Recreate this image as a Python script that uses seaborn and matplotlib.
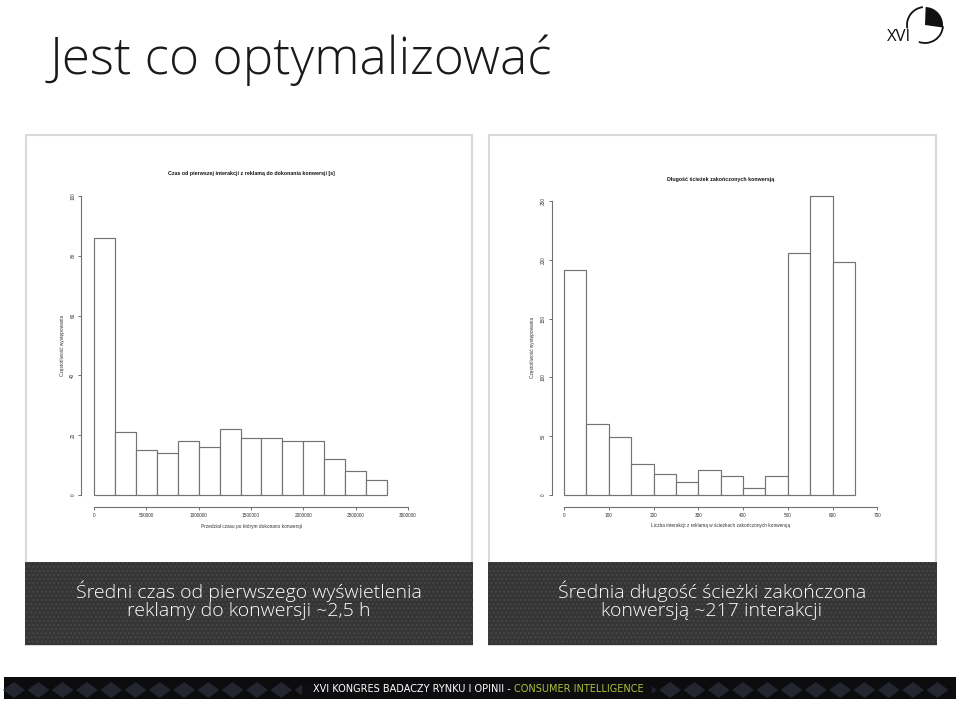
import matplotlib
matplotlib.use("Agg")
import math
import matplotlib.pyplot as plt
import seaborn as sns
from matplotlib.patches import Rectangle, Arc, Polygon

# ---------------- data ----------------
left_edges = [0, 200000, 400000, 600000, 800000, 1000000, 1200000, 1400000,
              1600000, 1800000, 2000000, 2200000, 2400000, 2600000, 2800000]
left_counts = [86, 21, 15, 14, 18, 16, 22, 19, 19, 18, 18, 12, 8, 5]
left_xticks = [0, 500000, 1000000, 1500000, 2000000, 2500000, 3000000]
left_yticks = [0, 20, 40, 60, 80, 100]

right_edges = [0, 50, 100, 150, 200, 250, 300, 350, 400, 450, 500, 550, 600, 650]
right_counts = [191, 60, 49, 26, 18, 11, 21, 16, 6, 16, 206, 254, 198]
right_xticks = [0, 100, 200, 300, 400, 500, 600, 700]
right_yticks = [0, 50, 100, 150, 200, 250]

slide_title = "Jest co optymalizować"
left_title = "Czas od pierwszej interakcji z reklamą do dokonania konwersji [s]"
left_xlabel = "Przedział czasu po którym dokonano konwersji"
right_title = "Długość ścieżek zakończonych konwersją"
right_xlabel = "Liczba interakcji z reklamą w ścieżkach zakończonych konwersją"
ylabel = "Częstotliwość występowania"
left_caption = "Średni czas od pierwszego wyświetlenia\nreklamy do konwersji ~2,5 h"
right_caption = "Średnia długość ścieżki zakończona\nkonwersją ~217 interakcji"
footer_white = "XVI KONGRES BADACZY RYNKU I OPINII - "
footer_green = "CONSUMER INTELLIGENCE"

# ---------------- figure ----------------
sns.set_theme(style="white")
plt.rcParams['font.family'] = ['Liberation Sans', 'DejaVu Sans']
plt.rcParams['hatch.linewidth'] = 1.0
W, H = 960, 702
fig = plt.figure(figsize=(W / 100, H / 100), dpi=100)
fig.patch.set_facecolor("white")
SLIDE_FONT = ["Open Sans", "DejaVu Sans"]


def fx(x):
    return x / W


def fy(y):
    return 1 - y / H


def rect(x0, y0, x1, y1, z=-5, **kw):
    r = Rectangle((fx(x0), fy(y1)), fx(x1) - fx(x0), fy(y0) - fy(y1),
                  transform=fig.transFigure, zorder=z, **kw)
    fig.patches.append(r)
    return r


# slide title
fig.text(fx(50), fy(74), slide_title, fontsize=37, color="#1a1a1a",
         family=SLIDE_FONT, fontweight="light", ha="left", va="baseline")

# logo
cx, cy, rr = 925, 25, 18
for t1_, t2_ in [(95, 195), (255, 355)]:
    fig.patches.append(Arc((fx(cx), fy(cy)), 2 * rr / W, 2 * rr / H, theta1=t1_, theta2=t2_,
                           transform=fig.transFigure, color="#111111", lw=1.3))
wedge_pts = [(fx(cx), fy(cy))]
for a in range(-8, 91, 4):
    wedge_pts.append((fx(cx + rr * math.cos(math.radians(a))),
                      fy(cy - rr * math.sin(math.radians(a)))))
fig.patches.append(Polygon(wedge_pts, closed=True, transform=fig.transFigure,
                           facecolor="#111111", edgecolor="none"))
fig.text(fx(899), fy(37), "XVI", fontsize=12, color="#111111", ha="center", va="center",
         family=SLIDE_FONT)

# panels
for (x0, x1) in [(26, 472), (489, 936)]:
    rect(x0, 135, x1, 645, facecolor="white", edgecolor="#dadada", lw=1.5)
    rect(x0 - 0.7, 562, x1 + 0.7, 645, facecolor="#353535", edgecolor="none")
    rect(x0 - 0.7, 562, x1 + 0.7, 645, facecolor="none", edgecolor="#474747",
         hatch="....", lw=0)

fig.text(fx(249), fy(600), left_caption, fontsize=14, color="white", ha="center",
         va="center", linespacing=1.0, family=SLIDE_FONT, fontweight="light", zorder=10)
fig.text(fx(712), fy(600), right_caption, fontsize=14, color="white", ha="center",
         va="center", linespacing=1.0, family=SLIDE_FONT, fontweight="light", zorder=10)

# footer band
rect(4, 677, 956, 699, facecolor="#0c0c0e", edgecolor="none")
xd = 14
while xd < 960:
    pts = [(fx(xd - 11), fy(690)), (fx(xd), fy(682)), (fx(xd + 11), fy(690)), (fx(xd), fy(698))]
    fig.patches.append(Polygon(pts, closed=True, transform=fig.transFigure,
                               facecolor="#23262e", edgecolor="none", zorder=-4))
    xd += 24.3
rect(302, 678, 652, 698, z=-3, facecolor="#0c0c0e", edgecolor="none", alpha=0.9)

t1 = fig.text(fx(313), fy(689), footer_white, fontsize=7.0, color="white", ha="left",
              va="center", family=["Liberation Sans Narrow", "DejaVu Sans"])
fig.canvas.draw()
bb = t1.get_window_extent(renderer=fig.canvas.get_renderer())
fig.text(bb.x1 / W, fy(689), footer_green, fontsize=7.0, color="#a9c23a", ha="left",
         va="center", family=["Liberation Sans Narrow", "DejaVu Sans"])


# ---------------- histograms ----------------
def hist_axes(px_left, px_right, px_top, px_bottom):
    ax = fig.add_axes([fx(px_left), fy(px_bottom), fx(px_right) - fx(px_left),
                       fy(px_top) - fy(px_bottom)])
    ax.set_zorder(5)
    return ax


def style(ax, edges, counts, xticks, yticks, title, xlabel, xpad, ypad):
    centers = [(a + b) / 2 for a, b in zip(edges[:-1], edges[1:])]
    sns.histplot(x=centers, weights=counts, bins=edges, ax=ax, color="white",
                 edgecolor="#737373", linewidth=0.85, alpha=1)
    ax.patch.set_alpha(0)
    xr = xticks[-1] - xticks[0]
    yr = yticks[-1] - yticks[0]
    ax.set_xlim(xticks[0] - 0.04 * xr, xticks[-1] + 0.04 * xr)
    ax.set_ylim(yticks[0] - 0.04 * yr, yticks[-1] + 0.04 * yr)
    for s in ["top", "right"]:
        ax.spines[s].set_visible(False)
    for s in ["left", "bottom"]:
        ax.spines[s].set_color("#707070")
        ax.spines[s].set_linewidth(0.8)
    ax.spines["bottom"].set_bounds(xticks[0], xticks[-1])
    ax.spines["left"].set_bounds(yticks[0], yticks[-1])
    ax.set_xticks(xticks)
    ax.set_xticklabels([str(v) for v in xticks])
    ax.set_yticks(yticks)
    ax.set_yticklabels([str(v) for v in yticks], rotation=90, va="center")
    ax.tick_params(axis="both", length=2.3, width=0.7, color="#707070", labelsize=3.4,
                   labelcolor="#333333", pad=2, direction="out", bottom=True, left=True)
    ax.set_title(title, fontsize=3.75, fontweight="bold", color="#111111", y=1.031, pad=0,
                 va="center")
    ax.set_xlabel(xlabel, fontsize=3.4, color="#333333")
    ax.set_ylabel(ylabel, fontsize=3.4, color="#333333")
    ax.xaxis.set_label_coords(0.5, xpad)
    ax.yaxis.set_label_coords(ypad, 0.5)
    ax.xaxis.label.set_va("center")
    ax.yaxis.label.set_va("center")
    ax.grid(False)


ax1 = hist_axes(81.4, 420.6, 184, 507)
style(ax1, left_edges, left_counts, left_xticks, left_yticks, left_title, left_xlabel,
      -0.059, -0.055)

ax2 = hist_axes(551.5, 889.8, 189.2, 506.8)
style(ax2, right_edges, right_counts, right_xticks, right_yticks, right_title,
      right_xlabel, -0.06, -0.055)

fig.savefig("out.png", dpi=100, facecolor="white")
